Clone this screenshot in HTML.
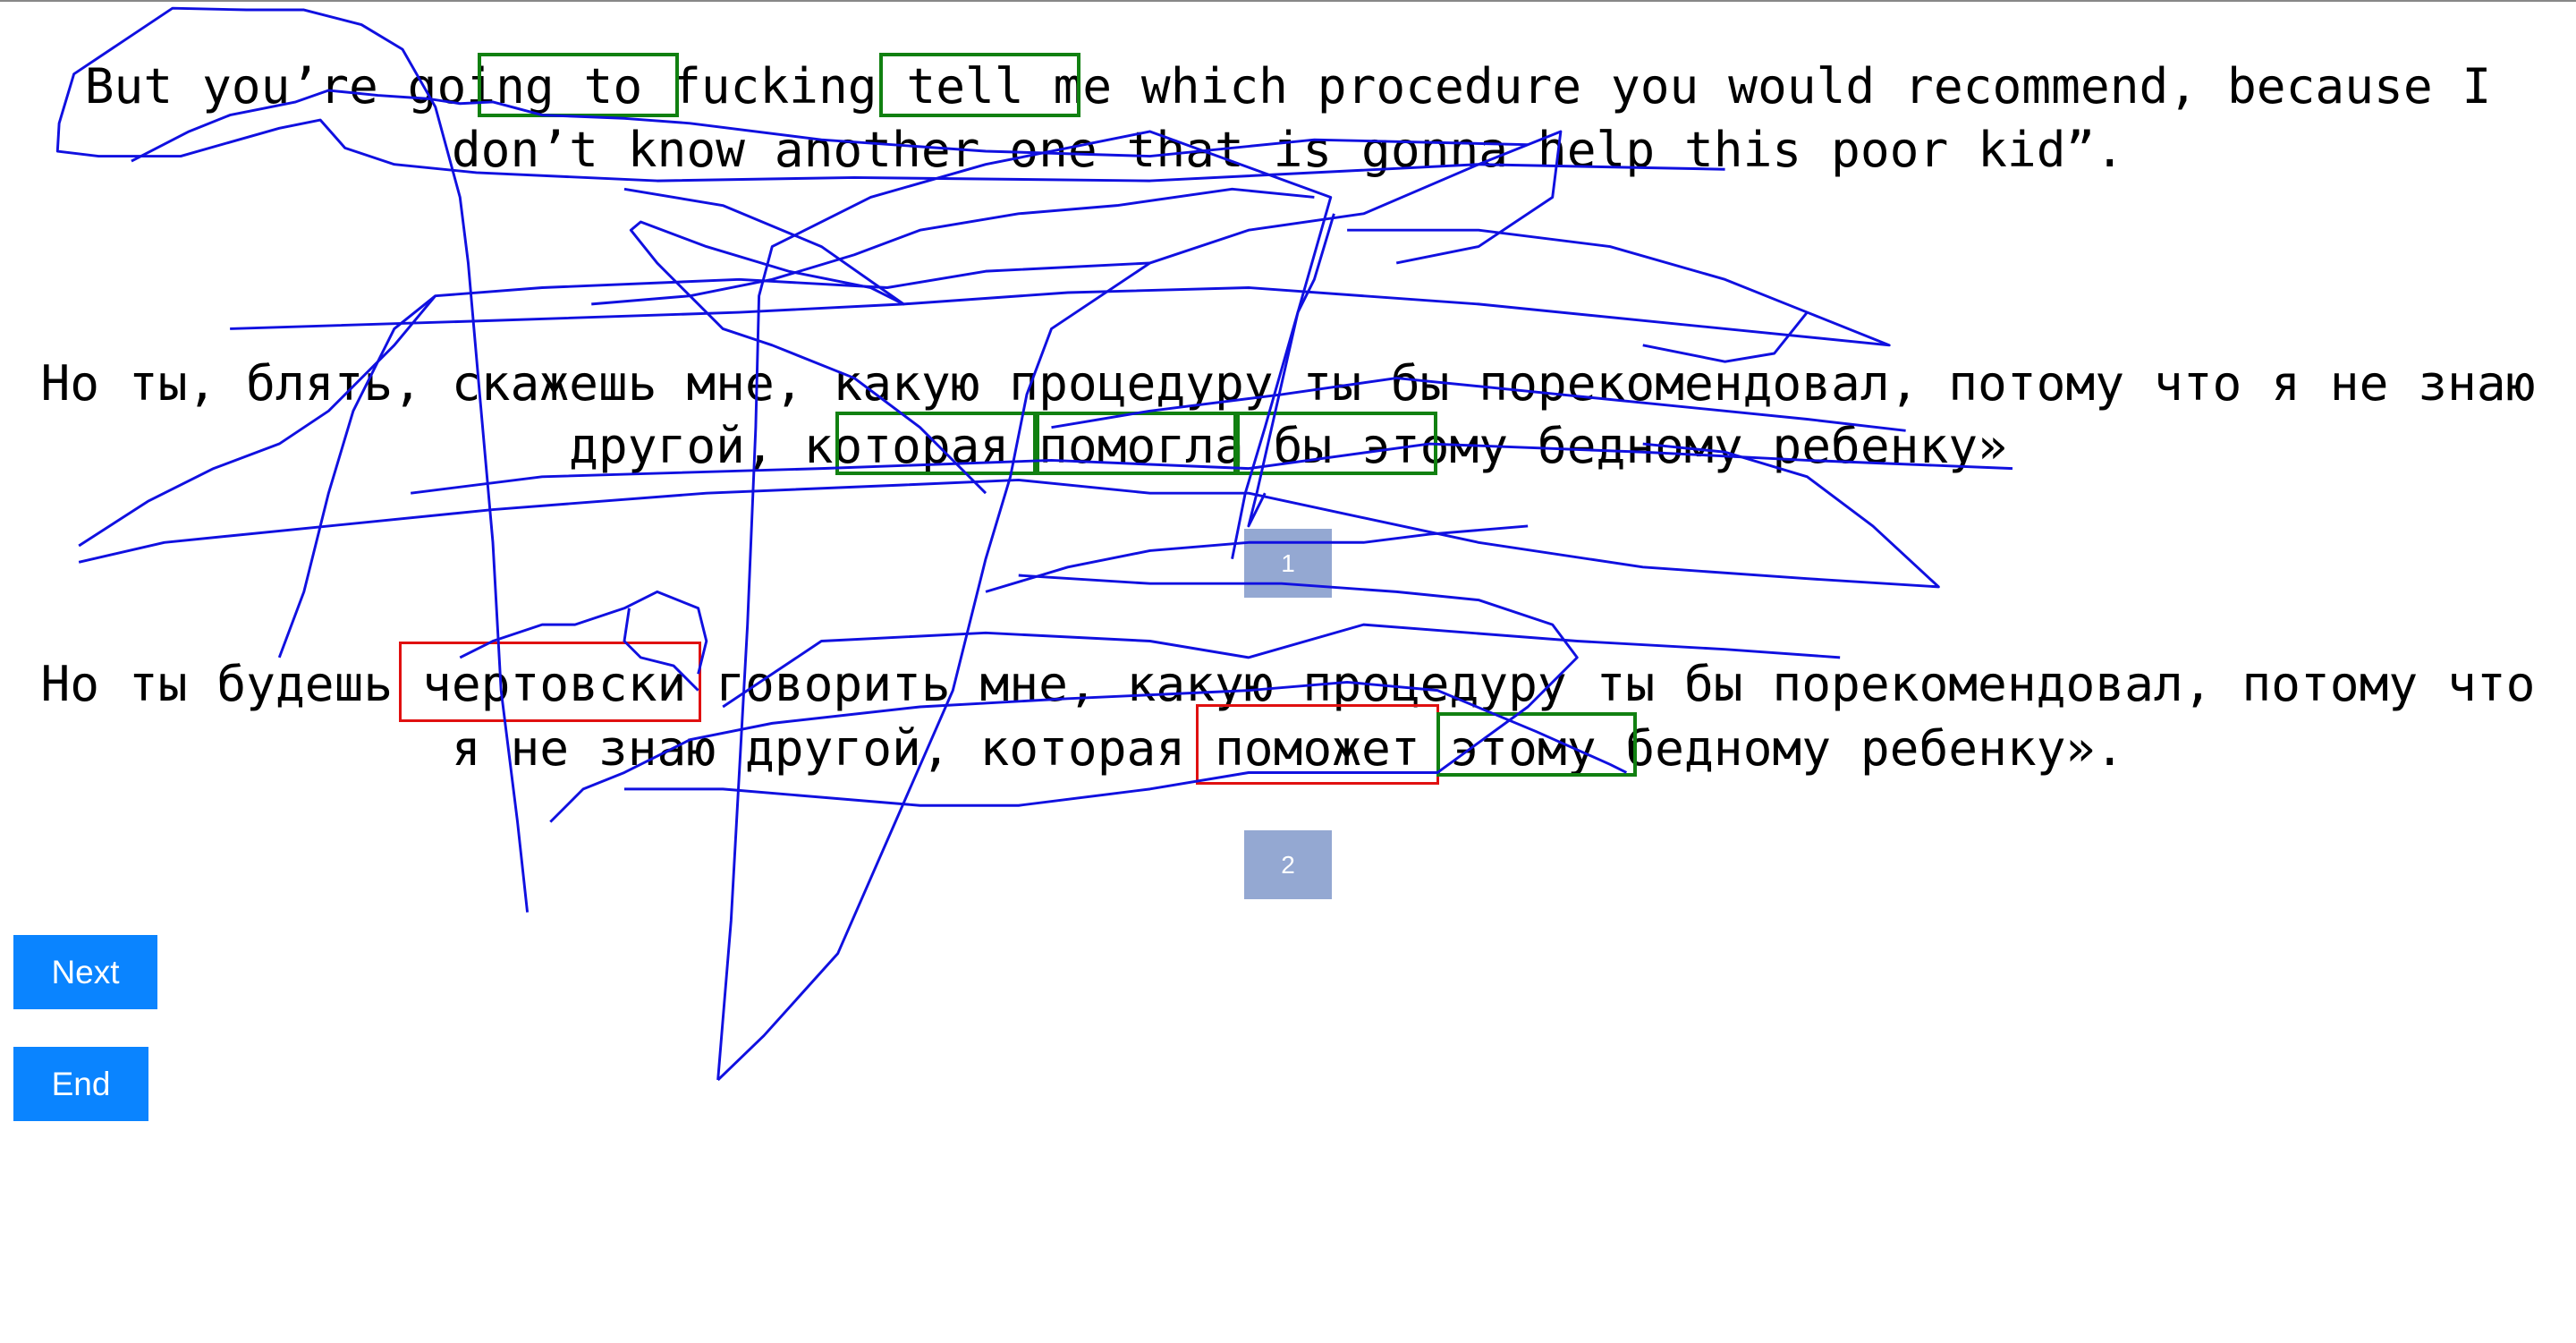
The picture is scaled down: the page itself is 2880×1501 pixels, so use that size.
<!DOCTYPE html>
<html><head><meta charset="utf-8"><style>
html,body{margin:0;padding:0;background:#fff;width:2880px;height:1501px;overflow:hidden;position:relative}
.topbar{position:absolute;left:0;top:0;width:2880px;height:2px;background:#888}
.t{position:absolute;left:0;width:2880px;text-align:center;white-space:pre;font-family:"DejaVu Sans Mono","Liberation Mono",monospace;font-size:54.5px;line-height:70px;color:#000}
.b{position:absolute;box-sizing:border-box;border:4px solid #118011}
.r{border-color:#e01010;border-width:3px}
.n{position:absolute;left:1391px;width:98px;height:77px;background:#94a8d2;color:#fff;font-family:"Liberation Sans",sans-serif;font-size:28px;line-height:77px;text-align:center}
.btn{position:absolute;left:15px;background:#0a84ff;color:#fff;font-family:"Liberation Sans",sans-serif;font-size:37px;text-align:center}
svg{position:absolute;left:0;top:0}
</style></head><body>
<div class="topbar"></div>
<div class="t" style="top:61px">But you’re going to fucking tell me which procedure you would recommend, because I</div>
<div class="t" style="top:132px">don’t know another one that is gonna help this poor kid”.</div>
<div class="t" style="top:393px">Но ты, блять, скажешь мне, какую процедуру ты бы порекомендовал, потому что я не знаю</div>
<div class="t" style="top:463px">другой, которая помогла бы этому бедному ребенку»</div>
<div class="t" style="top:729px">Но ты будешь чертовски говорить мне, какую процедуру ты бы порекомендовал, потому что</div>
<div class="t" style="top:801px">я не знаю другой, которая поможет этому бедному ребенку».</div>

<div class="b" style="left:534px;top:59px;width:225px;height:72px"></div>
<div class="b" style="left:983px;top:59px;width:225px;height:72px"></div>
<div class="b" style="left:934px;top:460px;width:225px;height:71px"></div>
<div class="b" style="left:1158px;top:460px;width:225px;height:71px"></div>
<div class="b" style="left:1382px;top:460px;width:225px;height:71px"></div>
<div class="b r" style="left:446px;top:717px;width:338px;height:90px"></div>
<div class="b r" style="left:1337px;top:787px;width:272px;height:90px"></div>
<div class="b" style="left:1606px;top:796px;width:224px;height:72px"></div>

<div class="n" style="top:591px">1</div>
<div class="n" style="top:928px">2</div>
<div class="btn" style="top:1045px;width:161px;height:83px;line-height:83px">Next</div>
<div class="btn" style="top:1170px;width:151px;height:83px;line-height:83px">End</div>

<svg width="2880" height="1501" viewBox="0 0 1568 817" preserveAspectRatio="none">
<g fill="none" stroke="#1010e0" stroke-width="1.6" stroke-linejoin="round">
<polyline points="321,555 315,500 305,420 300,330 292,240 285,160 280,120 265,65 245,30 220,15 185,6 150,6 105,5 75,25 45,45 36,75 35,92 60,95 110,95 170,78 195,73 210,90 240,100 290,105 400,110 520,108 700,110 900,100 1050,103"/>
<polyline points="80,98 115,80 140,70 160,66 180,62 200,55 230,58 260,60 280,63 300,62 330,70 380,72 420,75 500,85 600,92 700,95 800,85 930,88"/>
<polyline points="437,657 445,560 450,470 455,380 460,260 462,180 470,150 490,140 530,120 600,100 700,80 810,120 790,190 765,300 760,320 770,300"/>
<polyline points="437,657 465,630 510,580 545,500 580,420 600,340 615,290 625,240 640,200 700,160 760,140 830,130 900,100 950,80 945,120 900,150 850,160"/>
<polyline points="48,342 100,330 200,320 300,310 430,300 550,295 620,292 700,300 760,300 900,330 1000,345 1100,352 1180,357 1140,320 1100,290 1050,275 1000,270"/>
<polyline points="140,200 300,195 450,190 550,185 650,178 760,175 900,185 1050,200 1150,210 1100,190 1050,170 980,150 900,140 820,140"/>
<polyline points="48,332 90,305 130,285 170,270 200,250 240,210 265,180 330,175 450,170 540,175 600,165 700,160"/>
<polyline points="170,400 185,360 200,300 215,250 240,200 265,180"/>
<polyline points="335,500 355,480 380,470 420,450 470,440 560,430 650,425 760,420 820,415 875,420 935,445 980,465 990,470"/>
<polyline points="380,480 440,480 560,490 620,490 700,480 760,470 800,470 875,470 930,430 960,400 945,380 900,365 850,360 780,355 700,355 620,350"/>
<polyline points="250,300 330,290 500,285 640,280 760,285 870,270 1000,275 1100,280 1225,285"/>
<polyline points="440,430 470,410 500,390 600,385 700,390 760,400 830,380 960,390 1050,395 1120,400"/>
<polyline points="380,115 440,125 500,150 550,185 530,175 480,165 430,150 390,135 384,140 400,160 420,180 440,200 470,210 520,230 560,260 600,300"/>
<polyline points="360,185 420,180 470,170 520,155 560,140 620,130 680,125 750,115 800,120"/>
<polyline points="280,400 300,390 330,380 350,380 380,370 400,360 425,370 430,390 425,410"/>
<polyline points="383,370 380,390 390,400 410,405 425,420"/>
<polyline points="600,360 650,345 700,335 760,330 830,330 870,325 930,320"/>
<polyline points="750,340 758,300 770,260 790,190 800,170 812,130"/>
<polyline points="640,260 700,250 780,240 850,230 950,240 1100,255 1160,262"/>
<polyline points="1000,210 1050,220 1080,215 1100,190"/>
</g>
</svg>
</body></html>
